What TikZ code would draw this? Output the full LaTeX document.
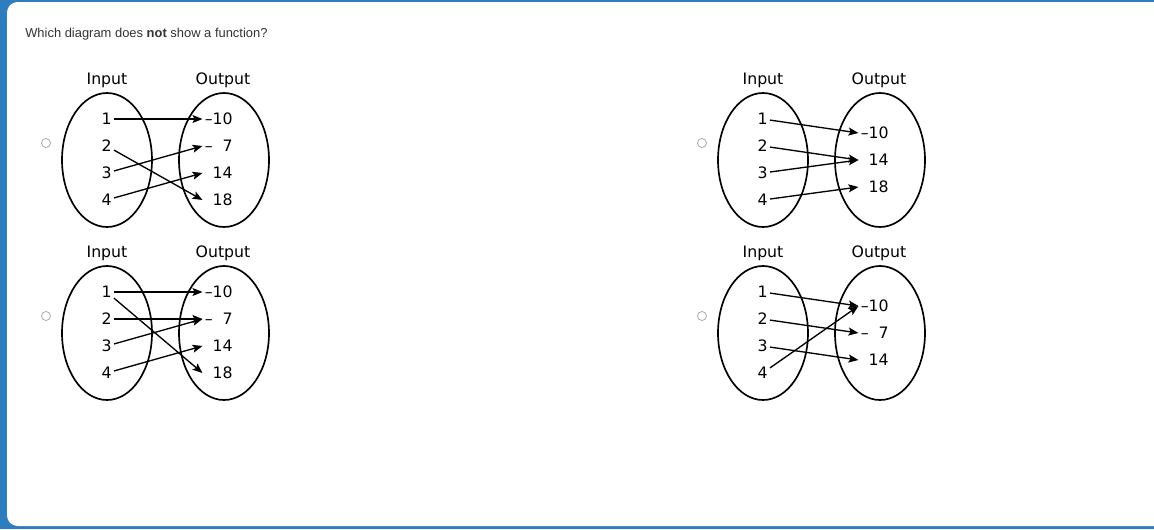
\documentclass[tikz,border=0pt]{standalone}
\usepackage{fontspec}
\newfontfamily\vfont{DejaVu Sans}
\newfontfamily\qfont{Liberation Sans}
\usetikzlibrary{positioning,arrows.meta}
\tikzset{>={Stealth[length=7.5pt,width=6pt,inset=1.6pt]}}
\definecolor{frameblue}{RGB}{46,125,190}
\definecolor{qgray}{RGB}{51,51,51}
\newcommand*{\lbl}{\vfont\fontsize{11.8}{13}\selectfont}
\tikzset{
  head/.style={inner sep=1pt,font=\lbl},
  inp/.style={anchor=east,inner sep=1.5pt,font=\lbl},
  outp/.style={anchor=east,inner sep=1.5pt,text width=21pt,align=right,font=\lbl},
  set/.style={line width=1.25pt},
  map/.style={->,line width=1pt},
  radio/.style={circle,draw=gray!65,line width=.6pt,minimum size=6.8pt,inner sep=0pt}
}

\begin{document}
\begin{tikzpicture}[x=0.75pt,y=-0.75pt]
\useasboundingbox (0,0) rectangle (1154,529);
\clip (0,0) rectangle (1154,529);
\fill[frameblue] (0,0) rectangle (1154,529);
\fill[white,rounded corners=8pt] (7,2) rectangle (1170,526);

\node[anchor=west,inner sep=0pt,text=qgray,font=\qfont\fontsize{9.7}{11}\selectfont] (quest) at (25,34)
  {Which diagram does \textbf{not} show a function?};

% top left
\node[radio] (rA) at (46,143) {};
\node[head] (hinA) at (107,80) {Input};
\node[head] (houtA) at (223,80) {Output};
\draw[set] (107,160) ellipse [x radius=45,y radius=67];
\draw[set] (224,160) ellipse [x radius=45,y radius=67];
\node[inp] (a1) at (114,119) {1};
\node[inp] (a2) at (114,146) {2};
\node[inp] (a3) at (114,173) {3};
\node[inp] (a4) at (114,200) {4};
\node[outp] (am10) at (235,119) {–10};
\node[outp] (am7) at (235,146) {–\hphantom{1}7};
\node[outp] (a14) at (235,173) {14};
\node[outp] (a18) at (235,200) {18};
\draw[map] (a1) -- (am10.west);
\draw[map] (a2) -- (a18.west);
\draw[map] (a3) -- (am7.west);
\draw[map] (a4) -- (a14.west);

% top right
\begin{scope}[shift={(656,0)}]
\node[radio] (rB) at (46,143) {};
\node[head] (hinB) at (107,80) {Input};
\node[head] (houtB) at (223,80) {Output};
\draw[set] (107,160) ellipse [x radius=45,y radius=67];
\draw[set] (224,160) ellipse [x radius=45,y radius=67];
\node[inp] (b1) at (114,119) {1};
\node[inp] (b2) at (114,146) {2};
\node[inp] (b3) at (114,173) {3};
\node[inp] (b4) at (114,200) {4};
\node[outp] (bm10) at (235,133) {–10};
\node[outp] (b14) at (235,160) {14};
\node[outp] (b18) at (235,187) {18};
\draw[map] (b1) -- (bm10.west);
\draw[map] (b2) -- (b14.west);
\draw[map] (b3) -- (b14.west);
\draw[map] (b4) -- (b18.west);
\end{scope}

% bottom left
\begin{scope}[shift={(0,173)}]
\node[radio] (rC) at (46,143) {};
\node[head] (hinC) at (107,80) {Input};
\node[head] (houtC) at (223,80) {Output};
\draw[set] (107,160) ellipse [x radius=45,y radius=67];
\draw[set] (224,160) ellipse [x radius=45,y radius=67];
\node[inp] (c1) at (114,119) {1};
\node[inp] (c2) at (114,146) {2};
\node[inp] (c3) at (114,173) {3};
\node[inp] (c4) at (114,200) {4};
\node[outp] (cm10) at (235,119) {–10};
\node[outp] (cm7) at (235,146) {–\hphantom{1}7};
\node[outp] (c14) at (235,173) {14};
\node[outp] (c18) at (235,200) {18};
\draw[map] (c1) -- (cm10.west);
\draw[map] (c1) -- (c18.west);
\draw[map] (c2) -- (cm7.west);
\draw[map] (c3) -- (cm7.west);
\draw[map] (c4) -- (c14.west);
\end{scope}

% bottom right
\begin{scope}[shift={(656,173)}]
\node[radio] (rD) at (46,143) {};
\node[head] (hinD) at (107,80) {Input};
\node[head] (houtD) at (223,80) {Output};
\draw[set] (107,160) ellipse [x radius=45,y radius=67];
\draw[set] (224,160) ellipse [x radius=45,y radius=67];
\node[inp] (d1) at (114,119) {1};
\node[inp] (d2) at (114,146) {2};
\node[inp] (d3) at (114,173) {3};
\node[inp] (d4) at (114,200) {4};
\node[outp] (dm10) at (235,133) {–10};
\node[outp] (dm7) at (235,160) {–\hphantom{1}7};
\node[outp] (d14) at (235,187) {14};
\draw[map] (d1) -- (dm10.west);
\draw[map] (d2) -- (dm7.west);
\draw[map] (d3) -- (d14.west);
\draw[map] (d4) -- (dm10.west);
\end{scope}
\end{tikzpicture}
\end{document}
